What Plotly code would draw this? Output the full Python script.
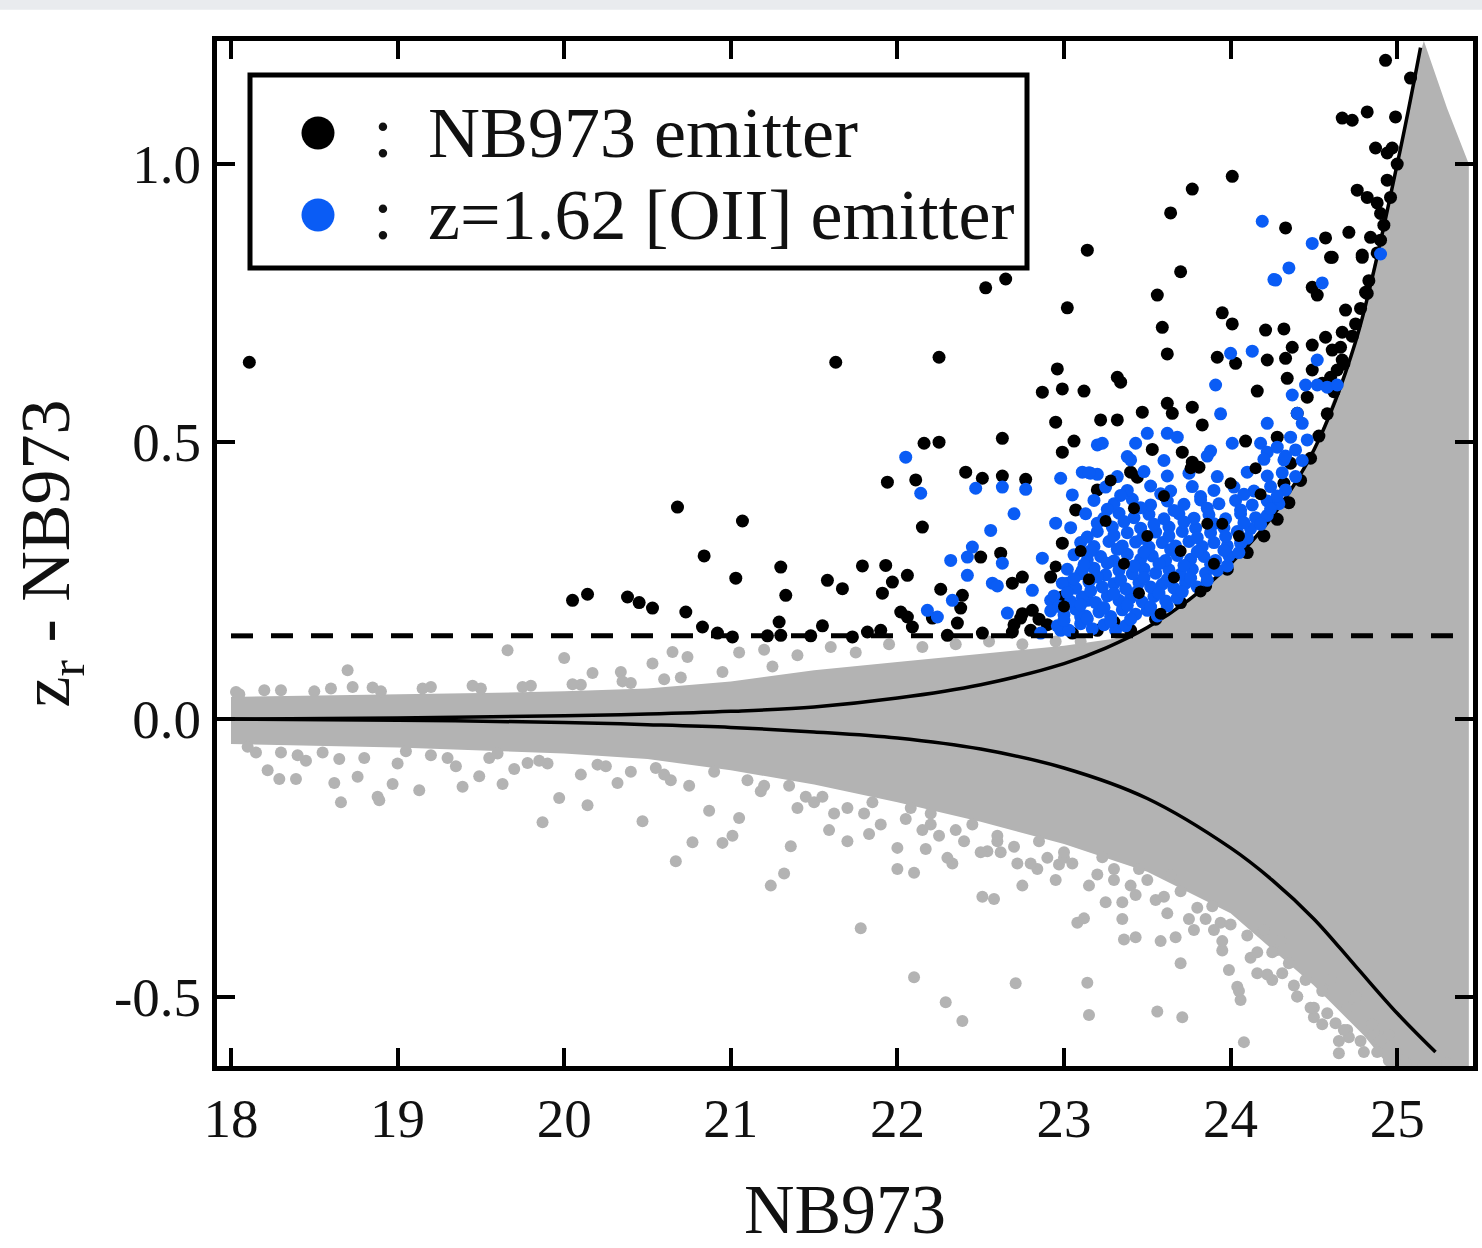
import plotly.graph_objects as go

# ---------------- axes ----------------
X_RANGE = [17.916, 25.455]
Y_RANGE = [-0.625, 1.2218]
x_ticks = [18, 19, 20, 21, 22, 23, 24, 25]
y_ticks = [-0.5, 0.0, 0.5, 1.0]
y_tick_labels = ["-0.5", "0.0", "0.5", "1.0"]
cut_level = 0.15

# ---------------- 3-sigma colour-error curves ----------------
sig_up_x = [18.0, 19.0, 20.0, 20.5, 21.0, 21.5, 22.0, 22.5, 23.0, 23.25, 23.5, 23.75, 24.0,
            24.25, 24.5, 24.75, 25.0, 25.14]
sig_up_y = [0.0, 0.002, 0.006, 0.009, 0.014, 0.022, 0.038, 0.062, 0.100, 0.128, 0.165, 0.215,
            0.280, 0.365, 0.485, 0.680, 1.000, 1.210]
sig_lo_x = [18.0, 19.0, 20.0, 20.5, 21.0, 21.5, 22.0, 22.5, 23.0, 23.5, 24.0, 24.25, 24.5,
            24.75, 25.0, 25.23]
sig_lo_y = [0.0, -0.002, -0.006, -0.010, -0.015, -0.023, -0.034, -0.054, -0.088, -0.143, -0.232,
            -0.290, -0.360, -0.445, -0.530, -0.600]

# ---------------- dense gray cloud (all sources), outline ----------------
env_x = [18.0, 18.5, 19.0, 19.5, 20.0, 20.5, 21.0, 21.5, 22.0, 22.5, 23.0, 23.3, 23.5, 23.75,
         24.0, 24.25, 24.5, 24.75, 25.0, 25.1, 25.16, 25.30, 25.43,
         25.43, 24.95, 24.8, 24.5, 24.0, 23.5, 23.0, 22.5, 22.0, 21.5, 21.0, 20.5, 20.0,
         19.5, 19.0, 18.5, 18.0]
env_y = [0.040, 0.042, 0.045, 0.047, 0.050, 0.055, 0.068, 0.088, 0.103, 0.118, 0.132, 0.145, 0.165,
         0.215, 0.280, 0.365, 0.485, 0.680, 1.000, 1.160, 1.222, 1.100, 1.000,
         -0.625, -0.625, -0.570, -0.480, -0.350, -0.275, -0.225, -0.185, -0.150, -0.118,
         -0.092, -0.072, -0.062, -0.056, -0.051, -0.048, -0.045]

# scattered gray sources outside the dense core
gray_x = [18.03, 18.70, 18.73, 19.66, 20.00, 20.17, 20.34, 20.53, 20.65, 20.74,
          18.22, 18.29, 18.39, 18.66, 18.62, 18.76, 18.88, 18.97, 19.13, 19.39,
          19.49, 19.63, 19.78, 19.87, 19.97, 20.14, 20.47, 20.77, 20.32, 20.64,
          18.89, 20.67, 20.95, 21.01, 21.05, 21.24, 21.32, 21.36, 20.87,
          21.78, 22.10, 22.29, 22.39, 22.71, 23.14, 23.15, 23.56, 23.71, 24.08,
          24.65, 24.71, 24.86, 24.95, 22.10, 22.51, 22.58, 23.08, 23.12, 23.36,
          23.43, 23.58, 23.67, 23.95, 23.99, 24.04, 24.06, 24.16, 24.28, 24.31,
          24.50, 24.63, 21.59, 21.83, 22.00, 22.17, 22.33, 22.54, 22.72, 22.84,
          22.97, 23.23, 23.43, 23.55, 23.64, 23.89, 23.94, 24.16,
          21.05, 21.20, 21.40, 21.60, 21.75, 21.95, 22.15, 22.35, 22.55, 22.75, 22.95, 23.10,
          18.10, 18.30, 18.45, 18.55, 18.80, 19.00, 19.20, 19.35, 19.55, 19.70, 19.90, 20.10,
          20.25, 20.40, 20.60, 20.75, 18.05, 18.30, 18.60, 18.90, 19.20, 19.50, 19.80, 20.10,
          20.40, 20.70, 21.20, 21.50, 21.80, 22.20, 22.60, 23.00, 23.30, 24.40, 24.70, 25.10, 25.30,
          21.55, 21.70, 21.85, 22.05, 22.20, 22.35, 22.45, 22.60, 22.70, 22.85, 22.90, 23.05,
          23.20, 23.30, 23.40, 23.50, 23.60, 23.70, 23.80, 23.85, 24.00, 24.10, 24.20, 24.25,
          24.35, 24.45, 24.55, 24.60, 24.70, 24.75, 24.85, 24.90, 25.00, 24.65, 24.55, 24.40,
          24.25, 24.80, 24.95, 24.50, 24.30, 23.90, 23.75, 23.35, 22.95, 22.50, 22.15, 21.40,
          18.15, 18.40, 18.65, 19.05, 19.30, 19.60, 19.85, 20.20, 20.55, 20.90,
          18.20, 18.50, 18.85, 19.15, 19.45, 19.75, 20.05, 20.35, 20.60, 20.95, 21.25,
          21.10, 21.18, 21.35, 21.45, 21.62, 21.90, 22.08, 22.25, 22.40, 22.62, 22.80, 23.00,
          23.15, 23.25, 23.45, 23.62, 23.78, 23.95, 24.12, 24.22, 24.38, 24.48, 24.58, 24.68,
          24.78, 24.88, 25.05, 22.30, 22.75, 23.35, 23.70, 24.05, 21.70, 22.00]
gray_y = [0.049, 0.088, 0.058, 0.124, 0.110, 0.083, 0.085, 0.100, 0.121, 0.112,
          -0.092, -0.108, -0.108, -0.150, -0.115, -0.104, -0.140, -0.117, -0.128, -0.122,
          -0.103, -0.117, -0.079, -0.186, -0.142, -0.155, -0.184, -0.222, -0.115, -0.110,
          -0.146, -0.256, -0.223, -0.210, -0.178, -0.300, -0.278, -0.229, -0.165,
          -0.377, -0.465, -0.510, -0.544, -0.476, -0.475, -0.533, -0.527, -0.537, -0.582,
          -0.602, -0.573, -0.566, -0.569, -0.277, -0.320, -0.324, -0.367, -0.359, -0.397,
          -0.393, -0.400, -0.393, -0.417, -0.452, -0.482, -0.506, -0.458, -0.416, -0.458,
          -0.537, -0.548, -0.200, -0.207, -0.232, -0.234, -0.260, -0.238, -0.260, -0.270,
          -0.262, -0.249, -0.317, -0.326, -0.281, -0.337, -0.367, -0.420,
          0.120, 0.125, 0.115, 0.130, 0.120, 0.135, 0.130, 0.135, 0.140, 0.135, 0.140, 0.140,
          -0.050, -0.060, -0.075, -0.060, -0.070, -0.080, -0.065, -0.085, -0.070, -0.090, -0.080, -0.100,
          -0.085, -0.095, -0.100, -0.120, 0.045, 0.052, 0.055, 0.050, 0.058, 0.055, 0.060, 0.062,
          0.065, 0.075, -0.120, -0.150, -0.170, -0.190, -0.220, -0.250, -0.290, -0.500, -0.560, -0.615, -0.620,
          -0.140, -0.160, -0.150, -0.180, -0.170, -0.200, -0.190, -0.210, -0.230, -0.220, -0.250, -0.260,
          -0.280, -0.270, -0.300, -0.290, -0.320, -0.310, -0.340, -0.360, -0.370, -0.390, -0.380, -0.420,
          -0.440, -0.470, -0.490, -0.470, -0.520, -0.500, -0.550, -0.580, -0.610, -0.580, -0.550, -0.500,
          -0.470, -0.600, -0.615, -0.520, -0.400, -0.380, -0.360, -0.330, -0.290, -0.240, -0.200, -0.160,
          -0.060, -0.065, -0.072, -0.058, -0.070, -0.062, -0.075, -0.082, -0.088, -0.095,
          0.052, 0.050, 0.057, 0.055, 0.060, 0.058, 0.063, 0.068, 0.072, 0.085, 0.095,
          -0.110, -0.130, -0.120, -0.140, -0.170, -0.190, -0.160, -0.210, -0.220, -0.240, -0.260, -0.240,
          -0.300, -0.330, -0.270, -0.350, -0.380, -0.400, -0.430, -0.460, -0.480, -0.520, -0.530, -0.560,
          -0.580, -0.600, -0.620, -0.250, -0.300, -0.360, -0.440, -0.490, -0.220, -0.270]

# ---------------- NB973 emitters ----------------
nb_x = [18.11, 20.05, 20.14, 20.38, 20.45, 20.53, 20.68, 20.73, 20.84, 20.83, 21.03, 21.07, 21.30,
        21.33, 21.29, 21.58, 21.63, 21.67, 21.79, 21.93, 21.97, 22.06, 21.91, 22.26, 22.39, 22.50,
        22.62, 20.92, 21.01, 21.22, 21.30, 21.48, 21.55, 21.73, 21.82, 21.90, 22.02, 22.06, 22.09,
        22.21, 22.30, 22.36, 22.38, 22.51, 22.69, 22.74, 22.69, 22.75, 22.81, 22.99, 22.92, 21.94,
        22.11, 22.16, 22.25, 22.25, 22.15, 22.41, 22.51, 22.63, 22.77, 22.63, 22.53, 22.65, 23.02,
        22.96, 22.87, 22.99, 23.12, 22.95, 23.22, 23.32, 23.06, 22.99, 23.20, 23.14, 23.70, 23.56,
        23.59, 23.62, 23.32, 23.34, 23.95, 24.01, 24.21, 24.32, 23.92, 24.03, 24.22, 24.33, 24.37,
        24.49, 24.57, 24.61, 24.79, 24.49, 24.52, 24.69, 24.81, 24.67, 24.75, 24.66, 24.61, 24.49,
        24.34, 24.16, 23.62, 23.65, 23.77, 23.83, 23.47, 23.53, 23.71, 24.09, 23.77, 23.81, 23.40,
        23.44, 23.07, 22.99, 24.32, 24.36, 24.28, 24.40, 24.46, 24.55, 24.60, 24.64, 24.67, 24.93,
        25.08, 24.82, 24.67, 24.73, 24.99, 24.87, 24.94, 24.97, 24.94, 24.76, 24.82, 24.88, 24.90,
        24.71, 24.84, 24.90, 24.79, 24.57, 24.60, 24.33, 24.01, 23.77, 23.64, 24.82,
        23.40, 23.55, 23.70, 23.85, 23.98, 24.10, 24.20, 24.28, 24.35, 24.42, 24.48, 24.53, 24.58,
        24.62, 24.68, 24.73, 24.78, 24.83, 24.88, 24.92, 24.96, 25.00,
        22.90, 22.85, 22.80, 22.75, 22.70, 23.05, 23.20, 23.30]
nb_y = [0.643, 0.214, 0.225, 0.220, 0.210, 0.200, 0.382, 0.193, 0.294, 0.166, 0.254, 0.357, 0.274,
        0.223, 0.175, 0.250, 0.643, 0.235, 0.276, 0.277, 0.247, 0.259, 0.227, 0.234, 0.223, 0.292,
        0.299, 0.155, 0.148, 0.150, 0.151, 0.150, 0.168, 0.148, 0.157, 0.160, 0.193, 0.184, 0.166,
        0.182, 0.151, 0.173, 0.200, 0.155, 0.157, 0.182, 0.245, 0.256, 0.196, 0.220, 0.256, 0.427,
        0.431, 0.497, 0.499, 0.652, 0.346, 0.445, 0.434, 0.438, 0.432, 0.506, 0.777, 0.793, 0.741,
        0.631, 0.589, 0.595, 0.591, 0.535, 0.539, 0.539, 0.501, 0.481, 0.413, 0.845, 0.806, 0.764,
        0.706, 0.658, 0.616, 0.607, 0.732, 0.712, 0.701, 0.703, 0.652, 0.641, 0.647, 0.650, 0.670,
        0.674, 0.688, 0.832, 0.836, 0.778, 0.764, 0.737, 0.769, 0.697, 0.712, 0.670, 0.665, 0.629,
        0.614, 0.591, 0.569, 0.551, 0.562, 0.530, 0.553, 0.486, 0.481, 0.501, 0.463, 0.454, 0.445,
        0.436, 0.377, 0.317, 0.425, 0.461, 0.508, 0.551, 0.580, 0.605, 0.616, 0.629, 0.647, 1.187,
        1.155, 1.094, 1.083, 1.079, 1.085, 1.029, 1.020, 1.029, 0.971, 0.953, 0.940, 0.930, 0.911,
        0.877, 0.868, 0.863, 0.832, 0.867, 0.832, 0.885, 0.978, 0.955, 0.912, 0.767,
        0.160, 0.180, 0.210, 0.240, 0.270, 0.300, 0.330, 0.360, 0.390, 0.430, 0.470, 0.510, 0.550,
        0.590, 0.640, 0.690, 0.740, 0.790, 0.840, 0.890, 0.940, 1.000,
        0.170, 0.180, 0.160, 0.190, 0.170, 0.155, 0.160, 0.175]

# black emitters seen through gaps of the [OII] cluster (drawn on top)
nb_top_x = [23.00, 23.10, 23.25, 23.36, 23.45, 23.50, 23.60, 23.70, 23.76, 23.86, 23.90, 24.00,
            24.05, 24.15, 22.95, 23.15, 23.42, 23.66, 23.95, 24.18, 23.28, 23.58, 23.82]
nb_top_y = [0.203, 0.303, 0.357, 0.280, 0.227, 0.330, 0.402, 0.303, 0.452, 0.352, 0.280, 0.425,
            0.330, 0.452, 0.275, 0.252, 0.380, 0.255, 0.352, 0.405, 0.430, 0.190, 0.230]

# ---------------- z=1.62 [OII] emitters ----------------
oii_x = [22.05, 22.14, 22.47, 22.63, 22.77, 22.98, 23.05, 23.11, 23.16, 23.20, 23.20,
         24.27, 24.35, 24.55, 24.90, 24.00, 24.13, 24.52, 23.91, 23.94, 24.22, 24.37, 24.45, 24.52,
         24.58, 24.64, 24.40, 23.50, 23.62, 23.68, 23.43, 23.40, 23.23, 24.01, 23.88, 24.18, 24.22,
         24.28, 24.36, 24.43, 24.32, 24.39, 24.46, 24.19, 24.49, 24.26,
         22.18, 22.24, 22.33, 22.42, 22.32, 22.42, 22.57, 22.63, 22.66, 22.87, 22.81, 22.92, 23.02,
         23.11, 23.14, 22.86, 22.98, 23.10, 22.45, 22.56, 22.70, 22.60, 22.95,
         22.96, 23.03, 23.10, 23.17, 23.24, 23.31, 23.37,
         22.92, 23.00, 23.07, 23.13, 23.21, 23.28, 23.35, 23.43, 23.50, 23.56,
         22.94, 23.04, 23.11, 23.19, 23.26, 23.33, 23.40, 23.47, 23.54, 23.61, 23.68,
         22.99, 23.07, 23.15, 23.23, 23.30, 23.37, 23.45, 23.52, 23.59, 23.66, 23.73, 23.80,
         23.02, 23.10, 23.18, 23.25, 23.33, 23.41, 23.48, 23.55, 23.63, 23.70, 23.77, 23.85, 23.92,
         23.06, 23.14, 23.22, 23.30, 23.38, 23.46, 23.53, 23.61, 23.68, 23.76, 23.84, 23.91, 23.99,
         23.10, 23.18, 23.27, 23.35, 23.43, 23.51, 23.59, 23.67, 23.75, 23.83, 23.90, 23.98, 24.06,
         23.04, 23.20, 23.29, 23.38, 23.46, 23.55, 23.63, 23.71, 23.79, 23.88, 23.96, 24.04, 24.12,
         23.13, 23.24, 23.33, 23.42, 23.51, 23.60, 23.69, 23.78, 23.87, 23.97, 24.06, 24.15, 24.22,
         23.18, 23.30, 23.41, 23.52, 23.62, 23.72, 23.82, 23.93, 24.03, 24.13, 24.22, 24.29,
         23.25, 23.38, 23.52, 23.64, 23.77, 23.90, 24.02, 24.14, 24.24, 24.33,
         23.15, 23.32, 23.48, 23.62, 23.75, 23.92, 24.10, 24.22, 24.31, 24.39,
         23.38, 23.60, 23.86, 24.20, 24.33, 24.43,
         23.00, 23.14, 23.28, 23.40,
         22.97, 23.10, 23.24, 23.38, 23.52, 23.62,
         23.02, 23.16, 23.30, 23.44, 23.57, 23.71,
         23.06, 23.20, 23.34, 23.48, 23.62, 23.76, 23.86,
         23.12, 23.26, 23.42, 23.57, 23.72, 23.88, 23.98,
         23.16, 23.32, 23.48, 23.64, 23.80, 23.96, 24.05,
         23.14, 23.30, 23.47, 23.63, 23.80, 23.97, 24.10,
         23.20, 23.36, 23.54, 23.72, 23.90, 24.08, 24.18,
         23.26, 23.46, 23.66, 23.86, 24.06, 24.24,
         23.34, 23.58, 23.82, 24.08, 24.28]
oii_y = [0.472, 0.407, 0.416, 0.418, 0.414, 0.434, 0.404, 0.445, 0.443, 0.441, 0.494,
         0.791, 0.813, 0.786, 0.838, 0.659, 0.663, 0.647, 0.602, 0.550, 0.533, 0.584, 0.602, 0.602,
         0.598, 0.602, 0.551, 0.515, 0.515, 0.508, 0.497, 0.467, 0.497, 0.497, 0.483, 0.497, 0.481,
         0.490, 0.508, 0.533, 0.467, 0.485, 0.503, 0.897, 0.857, 0.792,
         0.196, 0.184, 0.214, 0.259, 0.286, 0.292, 0.245, 0.281, 0.191, 0.290, 0.232, 0.214, 0.245,
         0.268, 0.214, 0.155, 0.160, 0.184, 0.310, 0.340, 0.370, 0.240, 0.353,
         0.168, 0.160, 0.172, 0.163, 0.170, 0.160, 0.168,
         0.195, 0.188, 0.198, 0.186, 0.193, 0.185, 0.197, 0.189, 0.196, 0.186,
         0.222, 0.212, 0.220, 0.210, 0.222, 0.214, 0.219, 0.211, 0.221, 0.213, 0.218,
         0.245, 0.236, 0.247, 0.238, 0.244, 0.235, 0.246, 0.238, 0.243, 0.236, 0.245, 0.238,
         0.270, 0.262, 0.272, 0.260, 0.268, 0.262, 0.271, 0.263, 0.269, 0.261, 0.270, 0.263, 0.268,
         0.296, 0.287, 0.293, 0.285, 0.297, 0.288, 0.294, 0.286, 0.295, 0.288, 0.293, 0.286, 0.294,
         0.318, 0.311, 0.320, 0.312, 0.319, 0.310, 0.318, 0.312, 0.320, 0.311, 0.318, 0.312, 0.317,
         0.345, 0.338, 0.346, 0.336, 0.344, 0.337, 0.346, 0.338, 0.344, 0.336, 0.345, 0.338, 0.343,
         0.370, 0.362, 0.371, 0.363, 0.369, 0.361, 0.370, 0.362, 0.368, 0.361, 0.370, 0.363, 0.367,
         0.394, 0.388, 0.396, 0.386, 0.393, 0.387, 0.395, 0.388, 0.394, 0.386, 0.393, 0.388,
         0.418, 0.412, 0.420, 0.411, 0.419, 0.412, 0.418, 0.411, 0.419, 0.413,
         0.444, 0.437, 0.446, 0.438, 0.443, 0.437, 0.445, 0.438, 0.444, 0.437,
         0.473, 0.466, 0.474, 0.468, 0.474, 0.466,
         0.178, 0.181, 0.176, 0.180,
         0.203, 0.206, 0.201, 0.205, 0.202, 0.204,
         0.228, 0.231, 0.226, 0.230, 0.227, 0.229,
         0.253, 0.256, 0.251, 0.255, 0.252, 0.254, 0.250,
         0.278, 0.281, 0.276, 0.280, 0.277, 0.279, 0.276,
         0.303, 0.306, 0.301, 0.305, 0.302, 0.304, 0.300,
         0.328, 0.331, 0.326, 0.330, 0.327, 0.329, 0.326,
         0.353, 0.356, 0.351, 0.355, 0.352, 0.354, 0.351,
         0.378, 0.381, 0.376, 0.380, 0.377, 0.379,
         0.403, 0.406, 0.401, 0.405, 0.402]

legend_labels = ["NB973 emitter", "z=1.62 [OII] emitter"]

GRAY = "#b3b3b3"
BLUE = "#0a5cf5"
SERIF = "Liberation Serif"
TXT = "#111111"

fig = go.Figure()
fig.add_trace(go.Scatter(x=env_x, y=env_y, mode="lines", fill="toself", fillcolor=GRAY,
                         line=dict(width=0, color=GRAY), hoverinfo="skip", showlegend=False))
fig.add_trace(go.Scatter(x=gray_x, y=gray_y, mode="markers",
                         marker=dict(color=GRAY, size=12, line=dict(width=0)),
                         showlegend=False, name="all"))
fig.add_trace(go.Scatter(x=sig_up_x, y=sig_up_y, mode="lines",
                         line=dict(color="black", width=3.5, shape="spline"), showlegend=False))
fig.add_trace(go.Scatter(x=sig_lo_x, y=sig_lo_y, mode="lines",
                         line=dict(color="black", width=3.5, shape="spline"), showlegend=False))
fig.add_trace(go.Scatter(x=nb_x, y=nb_y, mode="markers", name=legend_labels[0],
                         marker=dict(color="black", size=13, line=dict(width=0)), showlegend=False))
fig.add_trace(go.Scatter(x=oii_x, y=oii_y, mode="markers", name=legend_labels[1],
                         marker=dict(color=BLUE, size=13, line=dict(width=0)), showlegend=False))
fig.add_trace(go.Scatter(x=nb_top_x, y=nb_top_y, mode="markers", name=legend_labels[0],
                         marker=dict(color="black", size=12, line=dict(width=0)), showlegend=False))

# dashed selection line
fig.add_shape(type="line", xref="x", yref="y", x0=18.0, x1=25.43, y0=cut_level, y1=cut_level,
              line=dict(color="black", width=5, dash="22px,18px"), layer="above")

# top grey strip of the page
fig.add_shape(type="rect", xref="paper", yref="paper", x0=-0.2, x1=1.1, y0=1.0305, y1=1.06,
              fillcolor="#e9ebee", line=dict(width=0), layer="below")

# legend box with large keys
W, H, L, T = 1256.0, 1025.0, 217.0, 41.0
def px(xp):
    return (xp - L) / W
def py(yp):
    return (T + H - yp) / H

fig.add_shape(type="rect", xref="paper", yref="paper", x0=px(250), x1=px(1027), y0=py(268), y1=py(75),
              fillcolor="white", line=dict(color="black", width=5), layer="above")
for yc, col in [(133, "black"), (215, BLUE)]:
    fig.add_shape(type="circle", xref="paper", yref="paper", x0=px(318 - 16.5), x1=px(318 + 16.5),
                  y0=py(yc + 16.5), y1=py(yc - 16.5), fillcolor=col, line=dict(width=0), layer="above")
for yc, lab in [(133, legend_labels[0]), (215, legend_labels[1])]:
    fig.add_annotation(xref="paper", yref="paper", x=px(383), y=py(yc), text=":", showarrow=False,
                       xanchor="center", yanchor="middle", font=dict(family=SERIF, size=72, color=TXT))
    fig.add_annotation(xref="paper", yref="paper", x=px(426), y=py(yc), text=lab, showarrow=False,
                       xanchor="left", yanchor="middle", font=dict(family=SERIF, size=72, color=TXT))

axis_common = dict(showline=True, linecolor="black", linewidth=5, mirror="ticks", ticks="inside",
                   ticklen=18, tickwidth=4, tickcolor="black", showgrid=False, zeroline=False,
                   automargin=False, tickfont=dict(family=SERIF, size=55, color=TXT))
fig.update_xaxes(range=X_RANGE, tickvals=x_ticks, ticktext=[str(v) for v in x_ticks],
                 ticklabelstandoff=0,
                 title=dict(text="NB973", font=dict(family=SERIF, size=70, color=TXT), standoff=46),
                 **axis_common)
fig.update_yaxes(range=Y_RANGE, tickvals=y_ticks, ticktext=y_tick_labels, ticklabelstandoff=0,
                 title=dict(text="z<sub>r</sub> - NB973", font=dict(family=SERIF, size=70, color=TXT),
                            standoff=23),
                 **axis_common)

fig.update_layout(width=1482, height=1248, margin=dict(l=217, r=9, t=41, b=182),
                  plot_bgcolor="white", paper_bgcolor="white", showlegend=False)

fig.write_html("out.html")
